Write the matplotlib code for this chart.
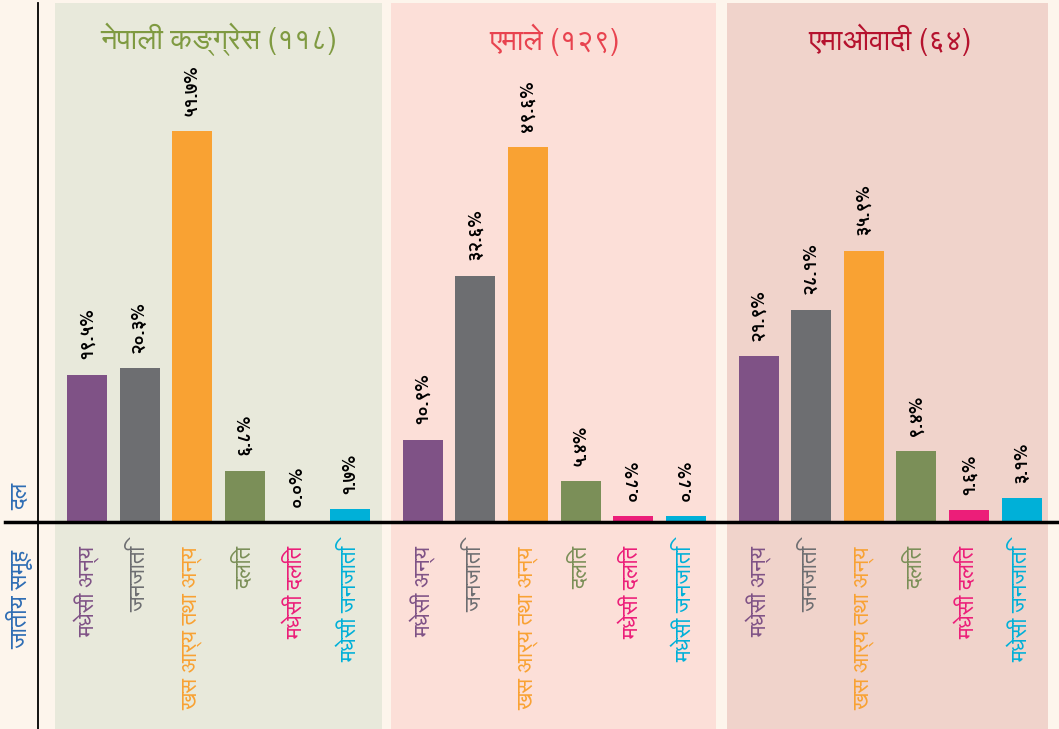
import matplotlib
matplotlib.use("Agg")
import matplotlib.pyplot as plt
from matplotlib import font_manager
from matplotlib.ft2font import FT2Font
from matplotlib.patches import Rectangle

# find any installed font that has Devanagari glyphs, prefer proportional sans
def find_devanagari_fonts():
    names = []
    for f in font_manager.fontManager.ttflist:
        try:
            cmap = FT2Font(f.fname).get_charmap()
        except Exception:
            continue
        if 0x0928 in cmap and 0x0967 in cmap and f.name not in names:
            names.append(f.name)
    names.sort(key=lambda n: ('Mono' in n, 'Sans' not in n, n))
    return names

deva = find_devanagari_fonts()
plt.rcParams['font.family'] = deva + ['DejaVu Sans']

# data
parties = ['नेपाली कङ्ग्रेस (११८)', 'एमाले (१२९)', 'एमाओवादी (६४)']
party_colors = ['#7f9a41', '#e8434f', '#b5122e']
panel_colors = ['#e8e9db', '#fcdfd8', '#f0d3cb']
groups = ['मधेसी अन्य', 'जनजाति', 'खस आर्य तथा अन्य', 'दलित', 'मधेसी दलित', 'मधेसी जनजाति']
group_colors = ['#7f5286', '#6d6e71', '#f9a233', '#7b8f58', '#ec1e79', '#00b0d8']
nc = [19.5, 20.3, 51.7, 6.8, 0.0, 1.7]
uml = [10.9, 32.6, 49.6, 5.4, 0.8, 0.8]
maoist = [21.9, 28.1, 35.9, 9.4, 1.6, 3.1]
values = [nc, uml, maoist]
value_labels = [['१९.५%', '२०.३%', '५१.७%', '६.८%', '०.०%', '१.७%'],
                ['१०.९%', '३२.६%', '४९.६%', '५.४%', '०.८%', '०.८%'],
                ['२१.९%', '२८.१%', '३५.९%', '९.४%', '१.६%', '३.१%']]

bg = '#fdf5ec'
fig = plt.figure(figsize=(10.59, 7.29), dpi=100, facecolor=bg)
ax = fig.add_axes([0, 0, 1, 1])
ax.set_facecolor(bg)
ax.set_xlim(-1.654, 18.48)
ax.set_ylim(-27.4, 69.05)
ax.axis('off')

gap = 6.385
panel_right = [5.6, 5.57, 5.5]
for g, party in enumerate(parties):
    x0 = g * gap
    ax.add_patch(Rectangle((x0 - 0.6, -28), panel_right[g] + 0.6, 68.65 + 28,
                           facecolor=panel_colors[g], edgecolor='none', zorder=0))
    ax.text(x0 + 2.5, 63.8, party, ha='center', va='center',
            fontsize=21, color=party_colors[g])
    xs = [x0 + i for i in range(len(groups))]
    ax.bar(xs, values[g], width=0.76, color=group_colors, zorder=2)
    for i, x in enumerate(xs):
        ax.text(x, values[g][i] + 2.0, value_labels[g][i], rotation=90,
                ha='center', va='bottom', fontsize=13, fontweight='bold',
                color='black', zorder=3)
        ax.text(x, -3.2, groups[i], rotation=90, ha='center', va='top',
                fontsize=16, color=group_colors[i], zorder=3)

# axes lines
ax.plot([-1.654 + 5 / 52.6, 18.48], [0, 0], color='black', lw=2.5, zorder=4)
ax.plot([-0.93, -0.93], [-27.4, 68.7], color='black', lw=1.3, zorder=4)
ax.text(-1.27, 3.4, 'दल', rotation=90, ha='center', va='center',
        fontsize=17, color='#2e6db4')
ax.text(-1.27, -10.2, 'जातीय समूह', rotation=90, ha='center', va='center',
        fontsize=17, color='#2e6db4')

fig.savefig('out.png', dpi=100, facecolor=bg)
